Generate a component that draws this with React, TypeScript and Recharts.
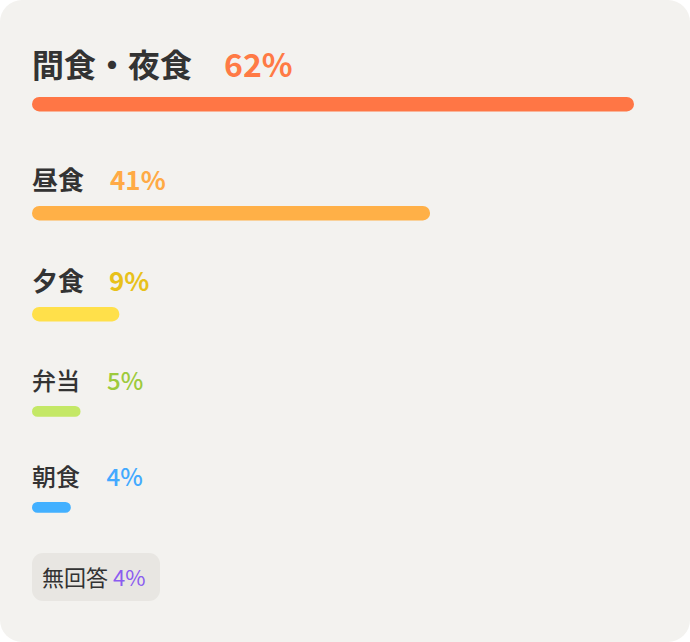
import React from "react";
import { BarChart, Bar, XAxis, YAxis } from "recharts";

const categories = ["間食・夜食", "昼食", "夕食", "弁当", "朝食"];
const values = [62, 41, 9, 5, 4];
const barColors = ["#ff7645", "#ffb047", "#ffe04a", "#c4e866", "#42b0ff"];
const textColors = ["#ff7a45", "#ffaa45", "#e8c11a", "#9dca3c", "#42a9ff"];
const noAnswerLabel = "無回答";
const noAnswerValue = 4;
const noAnswerColor = "#8b5cf0";

const MAX = Math.max(...values);
const FONT = '"Noto Sans CJK JP", "Noto Sans", sans-serif';

// layout per row (not data)
const layout = [
  { size: 32, weight: 700, baseline: 77, pctX: 224, barTop: 96, barH: 16 },
  { size: 26, weight: 700, baseline: 189.5, pctX: 110, barTop: 204.5, barH: 16 },
  { size: 26, weight: 700, baseline: 290.5, pctX: 109, barTop: 305.5, barH: 16 },
  { size: 24, weight: 500, baseline: 390, pctX: 107, barTop: 405, barH: 12 },
  { size: 24, weight: 500, baseline: 486, pctX: 106.5, barTop: 501, barH: 12 },
];

function RowBar({ value, color, h }: { value: number; color: string; h: number }) {
  const data = [{ name: "v", v: value }];
  return (
    <BarChart
      width={602}
      height={h}
      data={data}
      layout="vertical"
      margin={{ top: 0, right: 0, bottom: 0, left: 0 }}
      barCategoryGap={0}
    >
      <XAxis type="number" domain={[0, MAX]} hide />
      <YAxis type="category" dataKey="name" hide />
      <Bar dataKey="v" fill={color} radius={h / 2} barSize={h} isAnimationActive={false} />
    </BarChart>
  );
}

export default function App() {
  return (
    <div style={{ position: "fixed", left: 0, top: 0, width: 690, height: 642, background: "#ffffff" }}>
      <div
        style={{
          position: "absolute",
          left: 0,
          top: 0,
          width: 690,
          height: 642,
          borderRadius: 22,
          background: "#f3f2ef",
          overflow: "hidden",
        }}
      >
        {categories.map((c, i) => (
          <div key={c} style={{ position: "absolute", left: 32, top: layout[i].barTop }}>
            <RowBar value={values[i]} color={barColors[i]} h={layout[i].barH} />
          </div>
        ))}
        <svg width={690} height={642} style={{ position: "absolute", left: 0, top: 0 }}>
          {categories.map((c, i) => (
            <g key={c} fontFamily={FONT}>
              <text x={32} y={layout[i].baseline} fontSize={layout[i].size} fontWeight={layout[i].weight} fill="#333333">
                {c}
              </text>
              <text
                x={layout[i].pctX}
                y={layout[i].baseline}
                fontSize={layout[i].size}
                fontWeight={layout[i].weight}
                fill={textColors[i]}
              >
                {values[i]}%
              </text>
            </g>
          ))}
          <rect x={32} y={553} width={128} height={48} rx={11} fill="#e8e6e2" />
          <text x={42} y={586} fontFamily={FONT} fontSize={22} fontWeight={400} fill="#333333">
            {noAnswerLabel}
            <tspan dx={5} fill={noAnswerColor}>
              {noAnswerValue}%
            </tspan>
          </text>
        </svg>
      </div>
    </div>
  );
}
